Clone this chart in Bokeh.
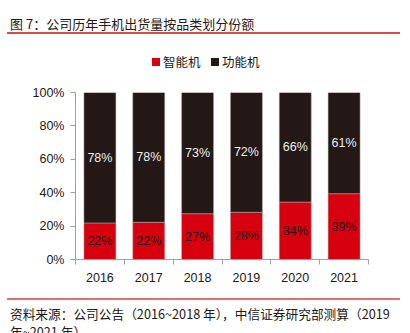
from bokeh.plotting import figure
from bokeh.models import ColumnDataSource, FixedTicker, Div, Range1d
from bokeh.layouts import column
from bokeh.core.properties import value
from bokeh.embed import file_html
from bokeh.resources import INLINE

years = ["2016", "2017", "2018", "2019", "2020", "2021"]
smart = [21.9, 22.3, 27.4, 28.3, 34.4, 39.4]
feature = [78.1, 77.7, 72.6, 71.7, 65.6, 60.6]
smart_labels = ["22%", "22%", "27%", "28%", "34%", "39%"]
feature_labels = ["78%", "78%", "73%", "72%", "66%", "61%"]
series_names = ["智能机", "功能机"]
y_ticks = [0, 20, 40, 60, 80, 100]
title_text = "图 7：公司历年手机出货量按品类划分份额"
source_line1 = "资料来源：公司公告（2016~2018 年），中信证券研究部测算（2019"
source_line2 = "年~2021 年）"

RED = "#d7000f"
DARK = "#231815"
LAT = "Liberation Sans"
CJK = "Noto Sans CJK SC"
colors = [RED, DARK]

xs = [i + 0.5 for i in range(len(years))]
src = ColumnDataSource(dict(
    x=xs, smart=smart, feature=feature,
    smid=[s / 2 for s in smart],
    fmid=[s + f / 2 for s, f in zip(smart, feature)],
    sl=smart_labels, fl=feature_labels,
))

# header (0..80 px): title, red rule, legend
legend_html = (
    f'<div style="position:absolute;left:152px;top:58px;width:8px;height:8px;background:{colors[0]};"></div>'
    f'<div style="position:absolute;left:163px;top:54px;line-height:16px;font-family:\'{CJK}\';'
    f'font-size:12.5px;color:{DARK};white-space:nowrap;">{series_names[0]}</div>'
    f'<div style="position:absolute;left:211px;top:58px;width:8px;height:8px;background:{colors[1]};"></div>'
    f'<div style="position:absolute;left:222px;top:54px;line-height:16px;font-family:\'{CJK}\';'
    f'font-size:12.5px;color:{DARK};white-space:nowrap;">{series_names[1]}</div>'
)
header = Div(width=410, height=80, margin=0, text=(
    '<div style="position:relative;width:410px;height:80px;">'
    f'<div style="position:absolute;left:10px;top:16px;line-height:16px;'
    f'font-family:\'{CJK}\';font-size:13px;color:{DARK};white-space:nowrap;">{title_text}</div>'
    '<div style="position:absolute;left:7px;top:32px;width:393px;height:1.5px;'
    'background:#e04848;"></div>' + legend_html + '</div>'))

# chart (80..290 px)
p = figure(width=410, height=210, output_backend="svg", toolbar_location=None,
           x_range=Range1d(0, len(years)), y_range=Range1d(0, 100),
           min_border_left=75, min_border_right=42, min_border_top=12,
           min_border_bottom=31, background_fill_color="white",
           border_fill_color="white", outline_line_color=None, margin=0)
p.xgrid.visible = False
p.ygrid.visible = False

p.vbar_stack(["smart", "feature"], x="x", width=0.655, source=src,
             color=colors, line_color="#b0b0b0", line_width=0.5)

p.text(x="x", y="smid", text="sl", source=src, text_align="center",
       text_baseline="middle", text_font=value(LAT), text_font_size="12.5px",
       text_color="#1a1a1a")
p.text(x="x", y="fmid", text="fl", source=src, text_align="center",
       text_baseline="middle", text_font=value(LAT), text_font_size="12.5px",
       text_color="#eeeeee")

xa = p.xaxis[0]
xa.ticker = FixedTicker(ticks=xs, minor_ticks=list(range(len(years) + 1)))
xa.major_label_overrides = {x: y for x, y in zip(xs, years)}
xa.major_tick_line_color = None
xa.minor_tick_line_color = "#a0a0a0"
xa.minor_tick_in = 0
xa.minor_tick_out = 5
xa.axis_line_color = "#a0a0a0"
xa.major_label_standoff = 7
xa.major_label_text_font = LAT
xa.major_label_text_font_size = "12.5px"
xa.major_label_text_color = DARK

ya = p.yaxis[0]
ya.ticker = FixedTicker(ticks=y_ticks, minor_ticks=[])
ya.major_label_overrides = {t: f"{t}%" for t in y_ticks}
ya.major_tick_line_color = "#a0a0a0"
ya.major_tick_in = 0
ya.major_tick_out = 5
ya.axis_line_color = "#a0a0a0"
ya.major_label_standoff = 6
ya.major_label_text_font = LAT
ya.major_label_text_font_size = "12.5px"
ya.major_label_text_color = DARK

# footer (290..333 px)
footer = Div(width=410, height=43, margin=0, text=(
    '<div style="position:relative;width:410px;height:43px;overflow:hidden;">'
    '<div style="position:absolute;left:7px;top:8.3px;width:393px;height:1.5px;'
    'background:#e07070;"></div>'
    f'<div style="position:absolute;left:10px;top:15px;line-height:18px;'
    f'font-family:\'{CJK}\';font-size:12.7px;color:{DARK};white-space:nowrap;">'
    f'{source_line1}<br>{source_line2}</div></div>'))

layout = column(header, p, footer, spacing=0, margin=0)
open("out.html", "w").write(file_html(layout, INLINE))
